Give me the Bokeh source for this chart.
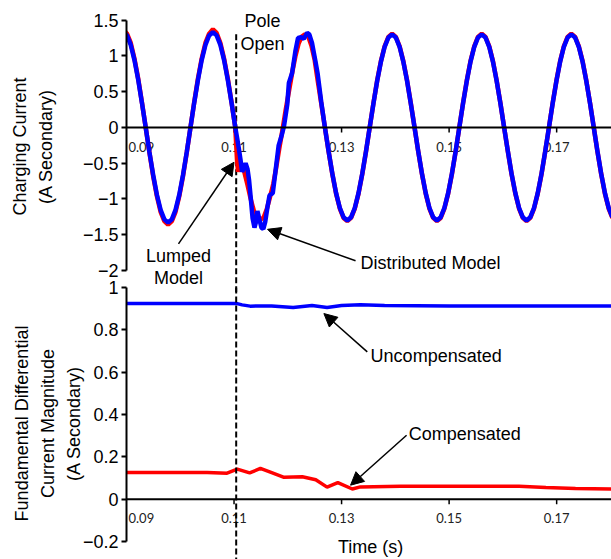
import numpy as np
from bokeh.plotting import figure
from bokeh.layouts import column
from bokeh.models import Range1d, Span, Arrow, NormalHead, FixedTicker
from bokeh.embed import file_html
from bokeh.resources import INLINE
from bokeh.core.properties import value

# ---------------- data ----------------
POLE_OPEN = 0.1104  # s

# steady-state sample instants (ms) before and after the disturbance
PRE_T_MS = [89.40, 90.09, 90.79, 91.48, 92.18, 92.87, 93.57, 94.26, 94.96, 95.65,
            96.34, 97.04, 97.73, 98.43, 99.12, 99.82, 100.51, 101.21, 101.90, 102.59,
            103.29, 103.98, 104.68, 105.37, 106.07, 106.76, 107.46, 108.15, 108.84, 109.54,
            110.23]
POST_T_MS = [126.90, 127.59, 128.29, 128.98, 129.68, 130.37, 131.07, 131.76, 132.46, 133.15,
             133.84, 134.54, 135.23, 135.93, 136.62, 137.32, 138.01, 138.71, 139.40, 140.09,
             140.79, 141.48, 142.18, 142.87, 143.57, 144.26, 144.96, 145.65, 146.34, 147.04,
             147.73, 148.43, 149.12, 149.82, 150.51, 151.21, 151.90, 152.59, 153.29, 153.98,
             154.68, 155.37, 156.07, 156.76, 157.46, 158.15, 158.84, 159.54, 160.23, 160.93,
             161.62, 162.32, 163.01, 163.71, 164.40, 165.09, 165.79, 166.48, 167.18, 167.87,
             168.57, 169.26, 169.96, 170.65, 171.34, 172.04, 172.73, 173.43, 174.12, 174.82,
             175.51, 176.21, 176.90, 177.59, 178.29, 178.98, 179.68, 180.37]

# charging current, distributed-parameter line model (A secondary)
DIST_PRE = [1.33, 1.285, 1.152, 0.940, 0.665, 0.344, 0.0, -0.344, -0.665, -0.940,
            -1.152, -1.285, -1.33, -1.285, -1.152, -0.940, -0.665, -0.344, 0.0, 0.344,
            0.665, 0.940, 1.152, 1.285, 1.33, 1.285, 1.152, 0.940, 0.665, 0.344,
            0.0]
DIST_T_MS = [110.60, 110.90, 111.20, 111.50, 111.80, 112.15, 112.50, 112.80, 113.10, 113.45,
             113.80, 114.05, 114.35, 114.70, 115.10, 115.45, 115.80, 116.20, 116.60, 117.20,
             117.70, 118.30, 118.90, 119.30, 119.90, 120.20, 120.80, 121.40, 121.90, 122.50,
             123.00, 123.60, 124.00, 124.50, 125.10, 125.55, 126.21]
DIST_MID = [-0.16, -0.30, -0.45, -0.62, -0.57, -0.50, -0.58, -0.74, -0.98, -1.27,
            -1.40, -1.33, -1.17, -1.28, -1.40, -1.42, -1.32, -1.12, -0.95, -0.92,
            -0.62, -0.25, -0.10, 0.02, 0.32, 0.62, 0.76, 1.06, 1.25, 1.26,
            1.24, 1.32, 1.30, 1.18, 0.94, 0.75, 0.36]
DIST_POST = [0.0, -0.336, -0.65, -0.919, -1.126, -1.256, -1.30, -1.256, -1.126, -0.919,
             -0.65, -0.336, 0.0, 0.336, 0.65, 0.919, 1.126, 1.256, 1.30, 1.256,
             1.126, 0.919, 0.65, 0.336, 0.0, -0.336, -0.65, -0.919, -1.126, -1.256,
             -1.30, -1.256, -1.126, -0.919, -0.65, -0.336, 0.0, 0.336, 0.65, 0.919,
             1.126, 1.256, 1.30, 1.256, 1.126, 0.919, 0.65, 0.336, 0.0, -0.336,
             -0.65, -0.919, -1.126, -1.256, -1.30, -1.256, -1.126, -0.919, -0.65, -0.336,
             0.0, 0.336, 0.65, 0.919, 1.126, 1.256, 1.30, 1.256, 1.126, 0.919,
             0.65, 0.336, 0.0, -0.336, -0.65, -0.919, -1.126, -1.256]

# charging current, lumped (pi) line model (A secondary)
LUMP_PRE = [1.36, 1.31, 1.18, 0.96, 0.68, 0.35, 0.0, -0.35, -0.68, -0.96,
            -1.18, -1.31, -1.36, -1.31, -1.18, -0.96, -0.68, -0.35, 0.0, 0.35,
            0.68, 0.96, 1.18, 1.31, 1.37, 1.32, 1.18, 0.96, 0.68, 0.35,
            0.0]
LUMP_T_MS = [110.55, 110.75, 111.00, 111.40, 111.90, 112.50, 113.10, 113.70, 114.30, 114.90,
             115.50, 116.10, 116.70, 117.30, 117.80, 118.40, 119.00, 119.60, 120.20, 120.80,
             121.40, 122.00, 122.60, 123.20, 123.80, 124.40, 125.00, 125.55, 126.21]
LUMP_MID = [-0.45, -0.62, -0.55, -0.52, -0.62, -0.80, -1.00, -1.17, -1.26, -1.29,
            -1.26, -1.14, -0.97, -0.79, -0.58, -0.30, -0.04, 0.24, 0.50, 0.76,
            0.99, 1.17, 1.27, 1.30, 1.27, 1.14, 0.94, 0.66, 0.34]
LUMP_POST = [0.0, -0.34, -0.655, -0.926, -1.134, -1.265, -1.31, -1.265, -1.134, -0.926,
             -0.655, -0.34, 0.0, 0.34, 0.655, 0.926, 1.134, 1.265, 1.31, 1.265,
             1.134, 0.926, 0.655, 0.34, 0.0, -0.34, -0.655, -0.926, -1.134, -1.265,
             -1.31, -1.265, -1.134, -0.926, -0.655, -0.34, 0.0, 0.34, 0.655, 0.926,
             1.134, 1.265, 1.31, 1.265, 1.134, 0.926, 0.655, 0.34, 0.0, -0.34,
             -0.655, -0.926, -1.134, -1.265, -1.31, -1.265, -1.134, -0.926, -0.655, -0.34,
             0.0, 0.34, 0.655, 0.926, 1.134, 1.265, 1.31, 1.265, 1.134, 0.926,
             0.655, 0.34, 0.0, -0.34, -0.655, -0.926, -1.134, -1.265]

# fundamental differential current magnitude (A secondary)
UNCOMP_T_MS = [90.0, 110.4, 111.5, 113.0, 117.0, 121.0, 124.5, 127.3, 130.0, 133.5,
               138.0, 150.0, 165.0, 180.3]
UNCOMP = [0.925, 0.925, 0.918, 0.912, 0.913, 0.905, 0.915, 0.906, 0.915, 0.919,
          0.915, 0.913, 0.913, 0.913]
COMP_T_MS = [90.0, 105.0, 108.7, 110.6, 112.9, 114.9, 117.0, 119.3, 122.7, 125.2,
             127.3, 129.3, 132.0, 133.5, 141.0, 163.0, 168.0, 173.5, 180.3]
COMP = [0.126, 0.126, 0.123, 0.142, 0.124, 0.145, 0.125, 0.103, 0.106, 0.092,
        0.057, 0.078, 0.048, 0.058, 0.061, 0.061, 0.055, 0.050, 0.048]

CURRENT_TICKS = [-2.0, -1.5, -1.0, -0.5, 0.0, 0.5, 1.0, 1.5]
CURRENT_TICK_LABELS = ["\u22122", "\u22121.5", "\u22121", "\u22120.5", "0", "0.5", "1", "1.5"]
MAG_TICKS = [-0.2, 0.0, 0.2, 0.4, 0.6, 0.8, 1.0]
MAG_TICK_LABELS = ["\u22120.2", "0", "0.2", "0.4", "0.6", "0.8", "1"]
TIME_TICKS = [0.09, 0.11, 0.13, 0.15, 0.17]
TIME_TICK_LABELS = ["0.09", "0.11", "0.13", "0.15", "0.17"]

# ---------------- assemble series ----------------
ms = lambda a: np.asarray(a) / 1000.0
dist_t = np.concatenate([ms(PRE_T_MS), ms(DIST_T_MS), ms(POST_T_MS)])
dist_v = np.concatenate([DIST_PRE, DIST_MID, DIST_POST])
lump_t = np.concatenate([ms(PRE_T_MS), ms(LUMP_T_MS), ms(POST_T_MS)])
lump_v = np.concatenate([LUMP_PRE, LUMP_MID, LUMP_POST])

FONT = "Liberation Sans"
RED = "#FF0000"
BLUE = "#0000FF"

x_range = Range1d(0.09, 0.1802)


def style(p, ticks, labels, bounds, axis_label, standoff):
    p.outline_line_color = None
    p.xgrid.visible = False
    p.ygrid.visible = False
    ax = p.yaxis[0]
    ax.ticker = FixedTicker(ticks=ticks)
    ax.major_label_overrides = {t: s for t, s in zip(ticks, labels)}
    ax.bounds = bounds
    ax.axis_line_width = 2
    ax.axis_line_color = "black"
    ax.major_tick_line_width = 2
    ax.major_tick_in = 0
    ax.major_tick_out = 5
    ax.minor_tick_line_color = None
    ax.major_label_standoff = 3
    ax.major_label_text_font = FONT
    ax.major_label_text_font_size = "18px"
    ax.major_label_text_color = "black"
    ax.axis_label = axis_label
    ax.axis_label_text_font = FONT
    ax.axis_label_text_font_size = "18px"
    ax.axis_label_text_font_style = "normal"
    ax.axis_label_text_color = "black"
    ax.axis_label_text_line_height = 1.3
    ax.axis_label_standoff = standoff


def time_axis(p, y_label, tick_len):
    # time axis drawn along the zero line, with tick marks and labels inside the frame
    p.add_layout(Span(location=0, dimension="width", line_color="black", line_width=2))
    xt = TIME_TICKS[1:]
    p.segment(x0=xt, y0=[0] * len(xt), x1=xt, y1=[-tick_len] * len(xt),
              line_color="black", line_width=1.5)
    p.text(x=TIME_TICKS[:1], y=[y_label], text=TIME_TICK_LABELS[:1], x_offset=2,
           text_font=value("Lato"), text_font_size="13px", text_align="left",
           text_baseline="middle", text_color="#222222")
    p.text(x=TIME_TICKS[1:], y=[y_label] * 4, text=TIME_TICK_LABELS[1:],
           text_font=value("Lato"), text_font_size="13px", text_align="center",
           text_baseline="middle", text_color="#222222")


def note(p, x, y, txt, align="center"):
    p.text(x=[x], y=[y], text=[txt], text_font=value(FONT), text_font_size="18px",
           text_align=align, text_baseline="middle", text_color="black")


def arrow(p, xs, ys, xe, ye):
    p.add_layout(Arrow(end=NormalHead(size=13, fill_color="black", line_color="black"),
                       x_start=xs, y_start=ys, x_end=xe, y_end=ye,
                       line_color="black", line_width=1.5))


# ---------------- top: charging current ----------------
top = figure(width=611, height=292, x_range=x_range, y_range=Range1d(-2.307, 1.773),
             output_backend="svg", toolbar_location=None, x_axis_location=None,
             min_border_left=126, min_border_right=0, min_border_top=0, min_border_bottom=0)
top.background_fill_color = "white"
top.border_fill_color = "white"
style(top, CURRENT_TICKS, CURRENT_TICK_LABELS, (-2, 1.5),
      "Charging Current\n(A Secondary)", 24)
time_axis(top, -0.28, 0.07)
top.segment(x0=[POLE_OPEN], y0=[1.3], x1=[POLE_OPEN], y1=[-2.4],
            line_color="black", line_width=2, line_dash="6 3")
top.line(lump_t, lump_v, line_color=RED, line_width=4.5)
top.line(dist_t, dist_v, line_color=BLUE, line_width=4.5)
note(top, 0.1153, 1.49, "Pole")
note(top, 0.1153, 1.17, "Open")
note(top, 0.09967, -1.794, "Lumped")
note(top, 0.09967, -2.103, "Model")
note(top, 0.13353, -1.888, "Distributed Model", "left")
arrow(top, 0.09967, -1.627, 0.1100, -0.487)
arrow(top, 0.1326, -1.864, 0.11623, -1.424)

# ---------------- bottom: differential current magnitude ----------------
# transparent, pulled up so its top border overlaps the upper panel
bot = figure(width=611, height=294, x_range=x_range, y_range=Range1d(-0.285, 1.0),
             output_backend="svg", toolbar_location=None, x_axis_location=None,
             min_border_left=126, min_border_right=0, min_border_top=22, min_border_bottom=0,
             styles={"margin-top": "-27px"})
bot.background_fill_alpha = 0
bot.border_fill_alpha = 0
style(bot, MAG_TICKS, MAG_TICK_LABELS, (-0.2, 1.0),
      "Fundamental Differential\nCurrent Magnitude\n(A Secondary)", -4)
time_axis(bot, -0.091, 0.024)
bot.add_layout(Span(location=POLE_OPEN, dimension="height", line_color="black",
                    line_width=2, line_dash="6 3"))
bot.line(ms(UNCOMP_T_MS), UNCOMP, line_color=BLUE, line_width=3.5)
bot.line(ms(COMP_T_MS), COMP, line_color=RED, line_width=3.5)
note(bot, 0.13540, 0.675, "Uncompensated", "left")
note(bot, 0.14247, 0.310, "Compensated", "left")
note(bot, 0.13540, -0.225, "Time (s)")
arrow(bot, 0.13478, 0.696, 0.12671, 0.877)
arrow(bot, 0.14209, 0.302, 0.13167, 0.066)

layout = column(top, bot)
open("out.html", "w").write(file_html(layout, INLINE))
